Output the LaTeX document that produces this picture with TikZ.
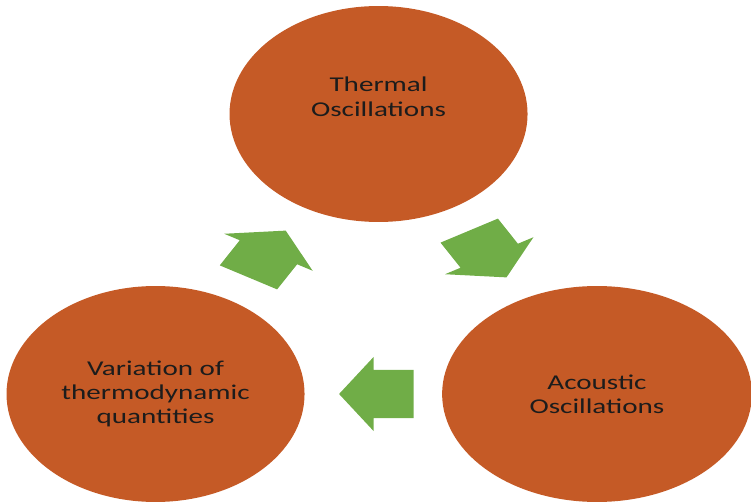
\documentclass[tikz,border=0pt]{standalone}
\usepackage{fontspec}
\setmainfont{Carlito}
\usetikzlibrary{shapes.geometric, calc}
\definecolor{bubbleorange}{RGB}{197,90,38}
\definecolor{arrowgreen}{RGB}{112,173,71}
\definecolor{textdark}{RGB}{28,28,28}
\tikzstyle{bubble} = [ellipse, fill=bubbleorange, inner sep=0pt, minimum width=4.32cm, minimum height=4.32cm, align=center, text=textdark, font=\fontsize{12}{13.8}\selectfont]
\tikzset{
  pics/blockarrow/.style={code={
    \fill[arrowgreen] (-27,-24) -- (2,-24) -- (2,-37) -- (27,0) -- (2,37) -- (2,24) -- (-27,24) -- cycle;
  }}
}

\begin{document}
\begin{tikzpicture}[x=0.02cm, y=-0.02cm, xscale=1.38, every node/.style={transform shape}]
  \useasboundingbox (0,0) rectangle (544.2,503);

  % Circles
  \node[bubble, text depth=19.6pt] (thermal) at (274.3,114) {Thermal\\Oscillations};
  \node[bubble] (variation) at (112.7,394) {Variation of\\thermodynamic\\quantities};
  \node[bubble, minimum width=4.49cm] (acoustic) at (432.6,394) {Acoustic\\Oscillations};

  % Arrows
  \pic[rotate=60] at ($(variation)!0.5!(thermal)$) {blockarrow};
  \pic[rotate=-60] at ($(thermal)!0.5!(acoustic)$) {blockarrow};
  \pic[rotate=180] at ($(acoustic)!0.5!(variation)$) {blockarrow};
\end{tikzpicture}
\end{document}
